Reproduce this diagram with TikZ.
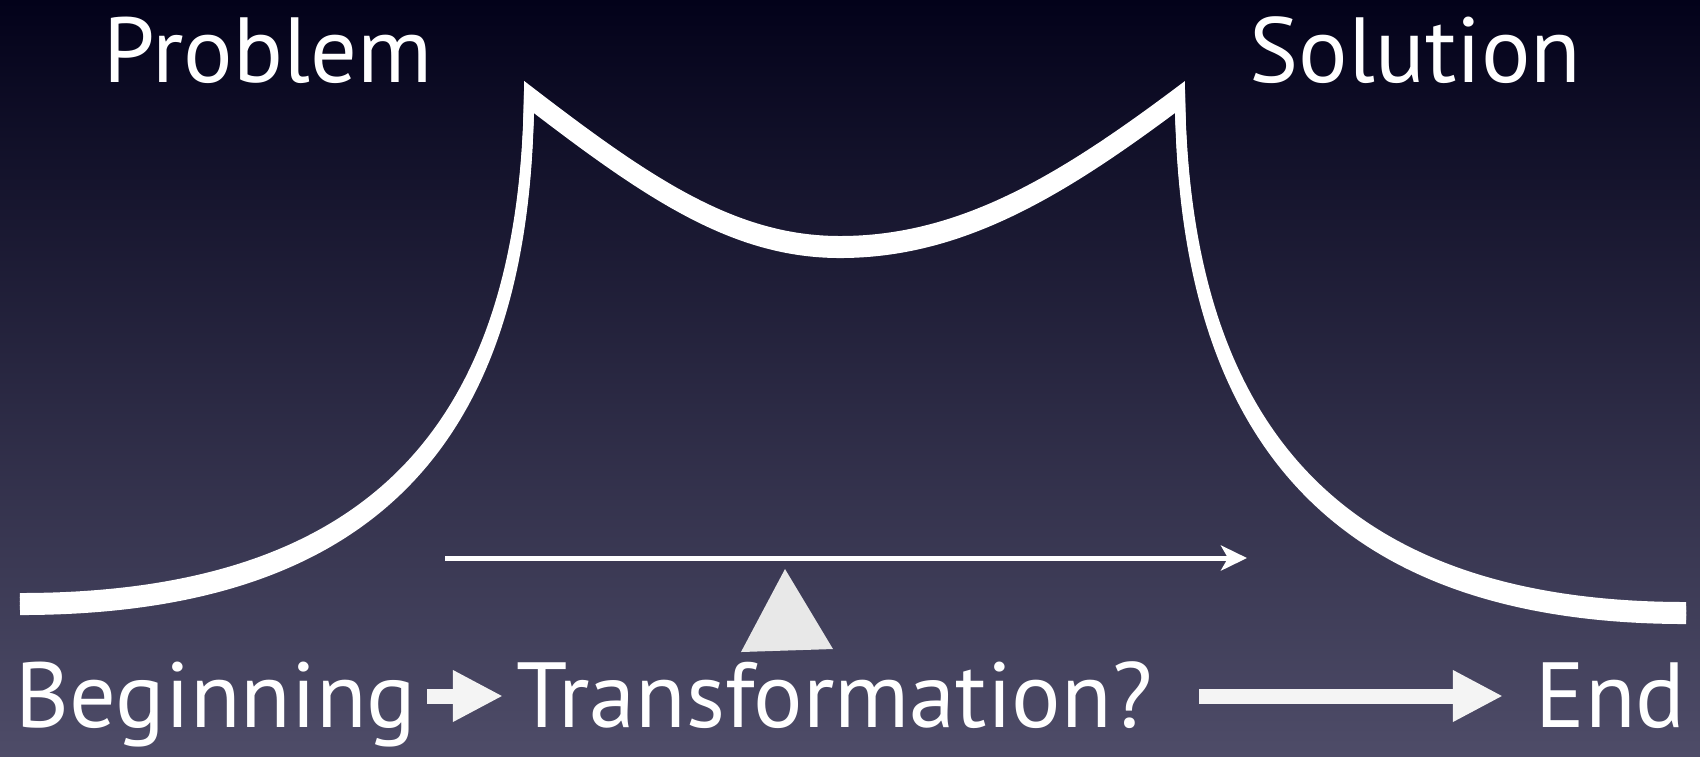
\documentclass[tikz,border=0pt]{standalone}
\usepackage{fontspec}
\setmainfont{PT Sans}
\usetikzlibrary{arrows.meta}
\definecolor{NightTop}{HTML}{03021A}
\definecolor{NightMid}{HTML}{1C1B38}
\definecolor{NightLow}{HTML}{4E4C68}
\definecolor{Pebble}{HTML}{E8E8E8}
\definecolor{Chalk}{HTML}{F4F4F4}

\begin{document}
\begin{tikzpicture}[x=0.01cm, y=-0.01cm,
    word/.style={anchor=base west, inner sep=0pt, text=white, font=\fontsize{26.3}{31}\selectfont},
    hump/.style={draw=white, line width=0.1cm, line join=miter},
    bigarrow/.style={-{Triangle[length=0.5cm, width=0.48cm]}, line width=0.15cm, color=Chalk},
    thinarrow/.style={-{Stealth[length=0.26cm, width=0.25cm, inset=0.07cm]}, line width=0.05cm, color=white}]
    \fill[top color=NightTop, middle color=NightMid, bottom color=NightLow] (0,0) rectangle (1700,756);
    \useasboundingbox (0,0) rectangle (1700,756);
    \node[word] (problem) at (103,82) {Problem};
    \node[word] (solution) at (1249,82) {Solution};
    \node[word] (beginning) at (15,727) {Beginning};
    \node[word] (transform) at (516,727) {Transformation?};
    \node[word] (ending) at (1535,727) {End};
    \foreach \s in {0,0.4,0.8,1.2} {
      \draw[hump, yshift=-\s mm] (20,598) .. controls (380,598) and (525,420) .. (529,91)
        .. controls (650,184) and (735,241) .. (840,241)
        .. controls (960,241) and (1060,181) .. (1180,91)
        .. controls (1184,420) and (1330,607) .. (1686,607);
    }
    \coordinate (flowstart) at (445,558);
    \coordinate (flowend) at (1247,558);
    \draw[thinarrow] (flowstart) -- (flowend);
    \fill[Pebble] (785,569) -- (741,652) -- (833,649) -- cycle;
    \draw[bigarrow] ([xshift=0.1cm, yshift=0.31cm]beginning.base east) -- ([xshift=-0.13cm, yshift=0.31cm]transform.base west);
    \draw[bigarrow] ([xshift=0.46cm, yshift=0.31cm]transform.base east) -- ([xshift=-0.32cm, yshift=0.31cm]ending.base west);
\end{tikzpicture}
\end{document}
